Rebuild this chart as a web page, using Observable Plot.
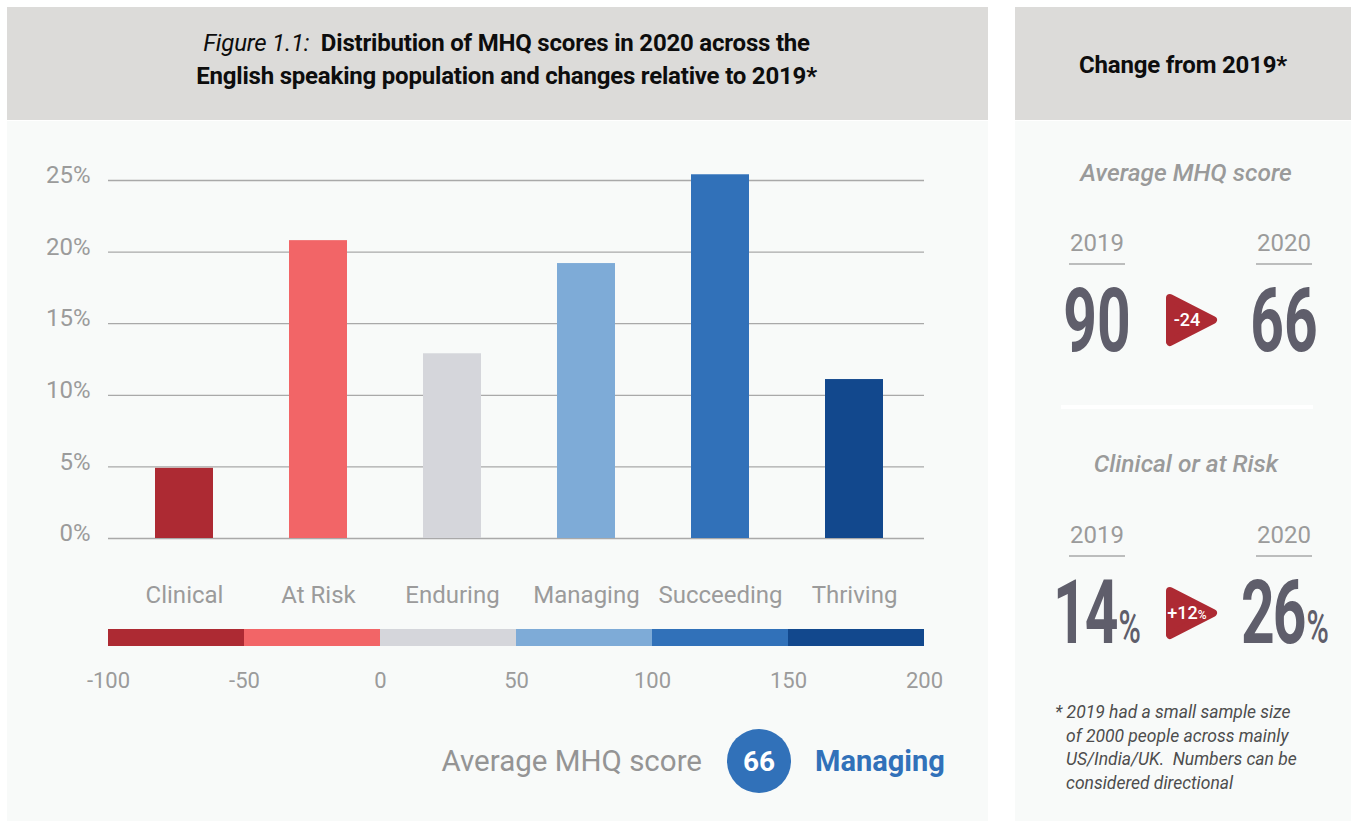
<!DOCTYPE html>
<html><head><meta charset="utf-8">
<script src="https://cdn.jsdelivr.net/npm/d3@7"></script>
<script src="https://cdn.jsdelivr.net/npm/@observablehq/plot@0.6"></script>
<style>
body{margin:0;background:#fff;}
#root{position:relative;width:1351px;height:821px;font-family:Roboto, sans-serif;overflow:hidden;background:#fff}
.abs{position:absolute}
#title{left:7px;top:27px;width:963px;padding-left:18px;text-align:center;font-size:24px;line-height:33px;font-weight:700;color:#0d0d0d;letter-spacing:-0.2px}
#title i{font-weight:400}
#rtitle{left:1015px;top:51px;width:336px;text-align:center;font-size:24px;font-weight:700;color:#0d0d0d;letter-spacing:-0.2px}
</style></head><body><div id="root">
<div class="abs" style="left:7px;top:7px;width:981px;height:113px;background:#dcdbd9"></div>
<div class="abs" style="left:1015px;top:7px;width:336px;height:113px;background:#dcdbd9"></div>
<div class="abs" style="left:7px;top:121px;width:981px;height:700px;background:#f8faf9"></div>
<div class="abs" style="left:1015px;top:121px;width:336px;height:700px;background:#f8faf9"></div>
<div id="title" class="abs"><i>Figure 1.1:</i>&nbsp; Distribution of MHQ scores in 2020 across the<br>English speaking population and changes relative to 2019*</div>
<div id="rtitle" class="abs">Change from 2019*</div>
<div id="bars" class="abs" style="left:0;top:140px"></div>
<div id="scale" class="abs" style="left:0;top:620px"></div>
</div>
<script>
// ---- data ----
const categories = ["Clinical", "At Risk", "Enduring", "Managing", "Succeeding", "Thriving"];
const shares = [4.9, 20.8, 12.9, 19.2, 25.4, 11.1]; // % of population, 2020
const colors = ["#ad2a33", "#f26567", "#d5d6db", "#7eabd7", "#3171b9", "#12488d"];
const yTicks = [0, 5, 10, 15, 20, 25];
const scoreBreaks = [-100, -50, 0, 50, 100, 150, 200];
const avgScore = {y2019: 90, y2020: 66, change: -24, category: "Managing"};
const clinicalRisk = {y2019: 14, y2020: 26, change: 12};
const footnote = ["* 2019 had a small sample size", "of 2000 people across mainly", "US/India/UK.  Numbers can be", "considered directional"];

const barData = categories.map((c, i) => ({category: c, share: shares[i]}));
const segments = categories.map((c, i) => ({category: c, lo: scoreBreaks[i], hi: scoreBreaks[i + 1]}));

const bars = Plot.plot({
  width: 988, height: 480,
  marginLeft: 108, marginRight: 64, marginTop: 40, marginBottom: 82,
  style: {background: "transparent", fontFamily: "Roboto, sans-serif", color: "#9b9b9b", overflow: "visible"},
  x: {domain: categories, range: [117, 921], paddingInner: 0.567, paddingOuter: 0.2835, label: null},
  y: {domain: [0, 25], label: null},
  color: {domain: categories, range: colors},
  marks: [
    Plot.ruleY(yTicks, {stroke: "#a9a9a9", strokeWidth: 1.3}),
    Plot.barY(barData, {x: "category", y: "share", fill: "category"}),
    Plot.axisY({ticks: yTicks, tickSize: 0, tickPadding: 18, tickFormat: d => d + "%", fontSize: 24, dy: -5, label: null}),
    Plot.axisX({tickSize: 0, tickPadding: 47, fontSize: 24, label: null})
  ]
});
document.getElementById("bars").appendChild(bars);

const scale = Plot.plot({
  width: 988, height: 90,
  marginLeft: 108, marginRight: 64, marginTop: 9, marginBottom: 64,
  style: {background: "transparent", fontFamily: "Roboto, sans-serif", color: "#9b9b9b", overflow: "visible"},
  x: {domain: [-100, 200], label: null},
  y: {domain: [0, 1], axis: null},
  color: {domain: categories, range: colors},
  marks: [
    Plot.rect(segments, {x1: "lo", x2: "hi", y1: 0, y2: 1, fill: "category"}),
    Plot.axisX({ticks: scoreBreaks, tickSize: 0, tickPadding: 26, fontSize: 22, tickFormat: d => String(d), label: null})
  ]
});
document.getElementById("scale").appendChild(scale);

// ---- overlay texts ----
const svg = d3.select("#root").append("svg")
  .attr("width", 1351).attr("height", 821)
  .style("position", "absolute").style("left", 0).style("top", 0)
  .style("font-family", "Roboto, sans-serif");

// bottom average
svg.append("text").attr("x", 702).attr("y", 771).attr("text-anchor", "end")
  .attr("font-size", 29.5).attr("fill", "#949494").text("Average MHQ score");
svg.append("circle").attr("cx", 759).attr("cy", 761).attr("r", 32).attr("fill", "#3171b9");
svg.append("text").attr("x", 759).attr("y", 771).attr("text-anchor", "middle")
  .attr("font-size", 28).attr("font-weight", 700).attr("fill", "#fff").text(avgScore.y2020);
svg.append("text").attr("x", 815).attr("y", 771)
  .attr("font-size", 29).attr("font-weight", 700).attr("fill", "#3171b9").text(avgScore.category);

// right panel
const R = svg.append("g");
function heading(t, y) {
  R.append("text").attr("x", 1186).attr("y", y).attr("text-anchor", "middle")
    .attr("font-size", 24.5).attr("font-style", "italic").attr("font-weight", 500).attr("fill", "#9a9a9a").text(t);
}
function year(t, cx, y) {
  R.append("text").attr("x", cx).attr("y", y).attr("text-anchor", "middle")
    .attr("font-size", 24).attr("fill", "#9b9b9b").text(t);
  R.append("line").attr("x1", cx - 28).attr("x2", cx + 28).attr("y1", y + 13).attr("y2", y + 13)
    .attr("stroke", "#a9a9a9").attr("stroke-width", 1.5);
}
function big(val, cx, y, pct) {
  const t = R.append("text").attr("transform", `translate(${cx},${y}) scale(0.66,1)`)
    .attr("text-anchor", "middle").attr("font-weight", 700).attr("fill", "#5f5e6b");
  t.append("tspan").attr("font-size", 89).attr("letter-spacing", pct ? -3 : 0).text(val);
  if (pct) t.append("tspan").attr("font-size", 46).attr("font-weight", 500).attr("dx", 3).text("%");
}
function arrow(y0, label, pct) {
  R.append("path").attr("d", `M1170,${y0 + 5} L1213,${y0 + 27} L1170,${y0 + 49} Z`)
    .attr("fill", "#ad2a33").attr("stroke", "#ad2a33").attr("stroke-width", 8).attr("stroke-linejoin", "round");
  const t = R.append("text").attr("x", 1187).attr("y", y0 + 33).attr("text-anchor", "middle")
    .attr("font-size", 18).attr("font-weight", 500).attr("fill", "#fff");
  t.append("tspan").text(label);
  if (pct) t.append("tspan").attr("font-size", 12).text("%");
}
heading("Average MHQ score", 181);
year("2019", 1097, 251);
year("2020", 1284, 251);
big(avgScore.y2019, 1097, 351, false);
big(avgScore.y2020, 1284, 351, false);
arrow(293, String(avgScore.change), false);

R.append("line").attr("x1", 1061).attr("x2", 1313).attr("y1", 407).attr("y2", 407)
  .attr("stroke", "#fff").attr("stroke-width", 4);

heading("Clinical or at Risk", 472);
year("2019", 1097, 543);
year("2020", 1284, 543);
big(clinicalRisk.y2019, 1097, 643, true);
big(clinicalRisk.y2020, 1285, 643, true);
arrow(586, "+" + clinicalRisk.change, true);

footnote.forEach((line, i) => {
  R.append("text").attr("x", i === 0 ? 1055 : 1066).attr("y", 718 + i * 23.7)
    .attr("font-size", 17.5).attr("font-style", "italic").attr("fill", "#4d4d4d")
    .style("white-space", "pre").text(line);
});
</script>
</body></html>
